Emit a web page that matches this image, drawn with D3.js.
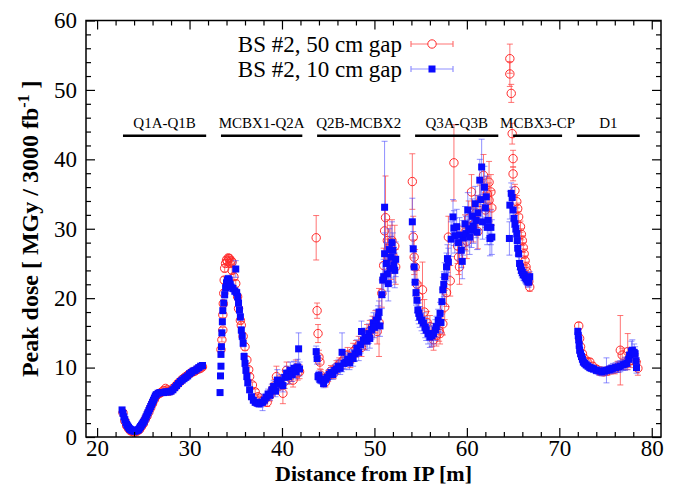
<!DOCTYPE html>
<html>
<head>
<meta charset="utf-8">
<script src="https://cdn.jsdelivr.net/npm/d3@7"></script>
<style>
  body { margin: 0; background: #fff; }
  svg { display: block; font-family: "Liberation Serif", "Times New Roman", serif; }
</style>
</head>
<body>
<div id="chart"></div>
<script>
// BS #2, 50 cm gap (red open circles)
const redX = [
  22.8, 23.0, 23.2, 23.4, 23.6, 23.8, 24.0, 24.2, 24.4, 24.6, 24.8, 25.0, 25.2, 25.4, 25.6, 25.8, 26.0, 26.2, 26.4, 26.6, 26.8, 27.0, 27.2, 27.4, 27.6, 27.8, 28.0, 28.2, 28.4, 28.6, 28.8, 29.0, 29.2, 29.4, 29.6, 29.8, 30.0, 30.2, 30.4, 30.6, 30.8, 31.0, 31.2, 31.4,
  33.4, 33.5, 33.6, 33.6, 33.65, 33.7, 33.75, 33.8, 33.9, 34.0, 34.1, 34.2, 34.3, 34.4, 34.5, 34.6, 34.6, 34.8, 35.0, 35.2, 35.3, 35.5, 35.6, 35.8, 36.0, 36.2, 36.4, 36.5, 36.8, 37.1, 37.4, 37.6, 37.9, 38.2, 38.4, 38.7, 39.0, 39.2, 39.4, 39.7, 40.1, 40.3, 40.5, 40.8, 41.0, 41.2, 41.5, 41.7, 41.9,
  43.7, 43.8, 43.9, 44.0, 44.1, 44.2, 44.4, 44.7, 45.0, 45.3, 45.6, 45.9, 46.2, 46.5, 46.8, 47.1, 47.4, 47.7, 48.0, 48.3, 48.6, 48.9, 49.2, 49.5, 49.8, 50.1, 50.3, 50.5, 50.8, 51.0, 51.1, 51.2, 51.4, 51.5, 51.7, 51.8, 51.9, 52.0, 52.2, 52.3,
  54.1, 54.2, 54.3, 54.4, 54.6, 54.8, 55.2, 55.4, 55.7, 56.0, 56.2, 56.4, 56.7, 57.0, 57.1, 57.4, 57.6, 57.8, 58.0, 58.2, 58.6, 59.0, 59.1, 59.2, 59.5, 59.8, 60.0, 60.2, 60.5, 60.7, 61.0, 61.2, 61.4, 61.8, 62.0, 62.2, 62.4, 62.4, 62.6, 62.7,
  64.65, 64.65, 64.8, 64.9, 65.0, 65.0, 65.2, 65.4, 65.5, 65.6, 65.8, 65.9, 66.0, 66.1, 66.2, 66.3, 66.4, 66.5, 66.6, 66.7, 66.8,
  72.1, 72.2, 72.3, 72.5, 72.7, 73.0, 73.3, 73.6, 74.0, 74.4, 74.8, 75.2, 75.6, 76.0, 76.3, 76.6, 76.8, 77.1, 77.4, 77.7, 78.0, 78.3, 78.5
];
const redY = [
  3.5, 2.3, 1.6, 1.2, 0.9, 0.8, 0.7, 0.75, 0.9, 1.1, 1.5, 1.9, 2.5, 3.0, 3.6, 4.2, 4.8, 5.4, 5.9, 6.2, 6.3, 6.5, 6.7, 7.0, 6.8, 6.6, 6.7, 7.0, 7.2, 7.5, 7.8, 8.0, 8.3, 8.5, 8.7, 8.9, 9.1, 9.3, 9.4, 9.5, 9.7, 9.8, 9.9, 10.1,
  12.6, 14.0, 15.4, 17.6, 19.2, 20.7, 22.6, 24.3, 25.0, 25.5, 25.3, 25.8, 25.7, 25.0, 25.4, 25.2, 24.0, 23.1, 22.1, 20.2, 18.5, 16.8, 16.1, 14.5, 13.0, 11.1, 9.7, 8.7, 7.5, 6.5, 5.8, 5.3, 5.2, 5.5, 5.0, 6.0, 6.9, 7.4, 8.7, 7.8, 6.3, 8.0, 9.6, 8.6, 9.0, 8.2, 9.9, 9.2, 9.4,
  28.7, 18.2, 14.9, 11.5, 10.8, 8.9, 8.4, 7.9, 8.8, 9.5, 9.2, 10.1, 10.5, 10.9, 11.4, 11.8, 11.1, 12.3, 12.7, 13.2, 12.9, 14.0, 14.8, 15.3, 15.9, 16.6, 15.2, 16.5, 20.7, 24.7, 29.7, 31.6, 28.3, 26.0, 27.5, 25.2, 28.3, 26.1, 27.5, 24.5,
  36.8, 28.8, 25.9, 24.5, 22.0, 20.2, 21.2, 18.0, 16.5, 15.9, 14.5, 14.0, 14.6, 15.3, 14.9, 16.3, 18.7, 20.8, 28.8, 22.5, 39.5, 27.5, 25.9, 24.5, 27.8, 29.5, 28.2, 31.5, 35.3, 30.6, 32.3, 29.6, 33.8, 37.7, 32.7, 35.0, 36.7, 34.1, 35.3, 33.0,
  54.5, 52.3, 49.5, 43.7, 40.1, 37.9, 35.5, 33.9, 32.9, 31.7, 30.3, 29.2, 28.3, 27.3, 26.4, 25.4, 24.5, 23.8, 23.1, 22.4, 21.6,
  16.0, 14.2, 13.0, 12.0, 11.3, 10.9, 10.8, 10.2, 9.8, 9.5, 9.4, 9.5, 9.7, 9.8, 10.1, 12.5, 11.8, 10.6, 12.3, 11.0, 11.6, 10.8, 9.9
];
const redErr = [
  0.2, 0.2, 0.2, 0.2, 0.2, 0.2, 0.2, 0.2, 0.2, 0.2, 0.2, 0.2, 0.2, 0.2, 0.2, 0.2, 0.2, 0.2, 0.2, 0.2, 0.2, 0.3, 0.3, 0.3, 0.3, 0.3, 0.3, 0.3, 0.3, 0.3, 0.3, 0.3, 0.3, 0.3, 0.3, 0.3, 0.3, 0.3, 0.3, 0.3, 0.3, 0.3, 0.3, 0.3,
  0.3, 0.3, 0.4, 0.4, 0.4, 0.5, 0.5, 0.5, 0.5, 0.5, 0.5, 0.5, 0.5, 0.5, 0.5, 0.5, 0.5, 0.5, 0.5, 0.5, 0.5, 0.5, 0.5, 0.5, 0.5, 0.5, 0.4, 0.4, 0.4, 0.4, 0.4, 0.4, 0.5, 0.6, 0.6, 0.8, 0.8, 0.9, 1.5, 1.0, 1.5, 1.0, 1.2, 1.0, 1.0, 1.0, 1.2, 1.0, 1.0,
  3.2, 1.1, 1.3, 1.0, 1.0, 0.8, 0.7, 0.7, 0.8, 0.8, 0.8, 0.9, 0.9, 1.0, 1.0, 1.1, 1.1, 1.2, 1.2, 1.3, 1.3, 1.4, 1.4, 1.5, 1.5, 1.6, 1.8, 4.9, 2.0, 2.5, 3.0, 6.0, 3.0, 2.5, 3.0, 2.5, 3.0, 2.5, 3.0, 2.5,
  4.0, 3.0, 2.5, 2.5, 2.0, 2.0, 4.0, 1.8, 1.6, 1.6, 1.5, 1.5, 1.5, 1.5, 1.5, 1.6, 1.8, 2.0, 3.0, 2.2, 5.5, 2.5, 2.5, 2.5, 2.5, 2.5, 2.5, 2.5, 2.5, 2.5, 2.5, 2.5, 2.5, 3.0, 2.5, 2.5, 3.0, 2.5, 2.5, 2.5,
  2.1, 1.8, 1.3, 1.5, 1.2, 1.0, 0.9, 0.9, 0.8, 0.8, 0.8, 0.8, 0.7, 0.7, 0.7, 0.7, 0.7, 0.7, 0.6, 0.6, 0.6,
  0.5, 0.5, 0.5, 0.5, 0.5, 0.5, 0.5, 0.5, 0.5, 0.6, 0.6, 0.6, 0.6, 0.7, 0.8, 5.0, 1.0, 0.9, 2.6, 1.0, 1.2, 1.0, 1.0
];

// BS #2, 10 cm gap (blue filled squares)
const blueX = [
  22.7, 22.8, 22.9, 23.0, 23.1, 23.2, 23.3, 23.4, 23.5, 23.6, 23.7, 23.8, 23.9, 24.0, 24.1, 24.2, 24.3, 24.4, 24.5, 24.6, 24.7, 24.8, 24.9, 25.0, 25.1, 25.2, 25.3, 25.4, 25.5, 25.6, 25.7, 25.8, 25.9, 26.0, 26.1, 26.2, 26.3, 26.4, 26.6, 26.8, 27.0, 27.2, 27.4, 27.6, 27.8, 28.0, 28.2, 28.4, 28.6, 28.8, 29.0, 29.2, 29.4, 29.6, 29.8, 30.0, 30.2, 30.4, 30.6, 30.8, 31.0, 31.2, 31.4,
  33.3, 33.35, 33.4, 33.4, 33.45, 33.5, 33.55, 33.6, 33.7, 33.8, 33.9, 34.0, 34.1, 34.2, 34.3, 34.4, 34.5, 35.0, 34.7, 34.9, 35.1, 35.2, 35.3, 35.4, 35.5, 35.6, 35.7, 35.8, 35.9, 36.0, 36.1, 36.2, 36.3, 36.5, 36.7, 36.9, 37.1, 37.3, 37.5, 37.7, 37.9, 38.1, 38.3, 38.5, 38.7, 38.9, 39.1, 39.3, 39.5, 39.7, 39.9, 40.1, 40.3, 40.5, 40.7, 40.9, 41.1, 41.3, 41.5, 41.7, 41.8, 41.9,
  43.7, 43.8, 43.9, 44.0, 44.1, 44.3, 44.5, 44.7, 44.9, 45.1, 45.3, 45.5, 45.7, 45.9, 46.1, 46.3, 46.5, 46.7, 46.9, 47.1, 47.3, 47.5, 47.7, 47.9, 48.1, 48.3, 48.5, 48.6, 48.8, 49.0, 49.2, 49.4, 49.5, 49.7, 49.9, 50.0, 50.2, 50.4, 50.5, 50.6, 50.8, 50.9, 51.0, 51.1, 51.1, 51.3, 51.4, 51.5, 51.6, 51.7, 51.8, 51.9, 52.0, 52.1, 52.2, 52.3,
  54.1, 54.2, 54.3, 54.4, 54.5, 54.6, 54.7, 54.8, 54.9, 55.1, 55.3, 55.5, 55.6, 55.8, 56.0, 56.2, 56.4, 56.6, 56.7, 56.9, 57.1, 57.2, 57.3, 57.4, 57.5, 57.6, 57.8, 57.9, 58.0, 58.3, 58.5, 58.6, 58.7, 58.9, 59.1, 59.2, 59.4, 59.5, 59.6, 59.8, 59.9, 60.1, 60.2, 60.3, 60.5, 60.6, 60.7, 60.9, 61.0, 61.1, 61.2, 61.4, 61.5, 61.6, 61.7, 61.9, 62.0, 62.1, 62.2, 62.3, 62.5, 62.6, 62.7,
  64.6, 64.65, 64.8, 64.9, 65.0, 65.1, 65.2, 65.3, 65.4, 65.45, 65.5, 65.6, 65.7, 65.8, 65.9, 66.0, 66.1, 66.2, 66.3, 66.4, 66.5, 66.6, 66.7, 66.8,
  72.0, 72.05, 72.1, 72.15, 72.2, 72.3, 72.4, 72.5, 72.6, 72.75, 72.9, 73.1, 73.3, 73.5, 73.7, 74.0, 74.3, 74.6, 74.9, 75.1, 75.4, 75.6, 75.8, 76.1, 76.4, 76.6, 76.9, 77.1, 77.3, 77.5, 77.6, 77.8, 77.9, 78.1, 78.2, 78.3, 78.35
];
const blueY = [
  3.9, 3.4, 2.9, 2.5, 2.1, 1.8, 1.6, 1.4, 1.2, 1.1, 1.0, 0.95, 0.9, 0.85, 0.85, 0.9, 0.95, 1.0, 1.1, 1.3, 1.5, 1.7, 1.9, 2.1, 2.3, 2.6, 2.9, 3.2, 3.5, 3.8, 4.1, 4.4, 4.7, 5.0, 5.3, 5.6, 5.9, 6.1, 6.3, 6.4, 6.4, 6.4, 6.5, 6.5, 6.5, 6.6, 6.8, 7.1, 7.4, 7.7, 8.0, 8.2, 8.4, 8.6, 8.8, 9.1, 9.3, 9.5, 9.6, 9.8, 10.0, 10.2, 10.3,
  6.4, 8.8, 10.2, 11.9, 13.0, 15.0, 16.6, 18.2, 19.3, 20.5, 21.5, 22.2, 22.6, 22.8, 22.6, 22.0, 21.6, 24.2, 21.4, 21.0, 20.8, 20.2, 19.3, 18.3, 17.3, 15.4, 14.5, 13.5, 11.6, 10.6, 9.6, 8.7, 7.8, 6.8, 5.8, 5.3, 5.0, 4.9, 4.8, 4.9, 5.0, 5.3, 5.7, 6.2, 6.0, 6.8, 7.3, 6.6, 8.2, 7.6, 8.1, 7.4, 8.6, 9.2, 8.7, 9.6, 9.0, 9.9, 9.4, 10.1, 12.7, 9.8,
  12.3, 11.3, 8.7, 8.9, 8.3, 8.2, 7.7, 8.3, 8.6, 9.0, 9.3, 9.0, 9.6, 9.8, 10.2, 9.9, 12.2, 10.6, 10.8, 11.2, 10.7, 11.6, 11.3, 12.0, 12.8, 12.2, 13.3, 15.2, 13.9, 14.4, 13.8, 14.9, 14.2, 15.5, 16.4, 15.8, 16.8, 17.3, 18.0, 16.0, 20.5, 22.6, 23.1, 26.4, 33.1, 25.0, 23.5, 22.1, 27.0, 24.3, 25.9, 28.0, 26.9, 24.8, 24.0, 25.6,
  31.0, 27.1, 24.5, 22.3, 20.8, 19.7, 18.3, 17.8, 17.3, 16.8, 16.4, 15.8, 15.4, 14.9, 14.4, 14.6, 14.9, 15.4, 15.9, 16.8, 17.8, 16.5, 19.5, 21.2, 22.0, 23.1, 24.5, 25.7, 25.2, 28.5, 31.7, 30.1, 29.0, 30.3, 28.0, 29.1, 26.9, 25.3, 28.7, 30.7, 29.3, 32.7, 30.0, 28.8, 29.8, 31.8, 30.4, 33.6, 31.2, 29.5, 32.3, 37.0, 34.2, 38.9, 31.0, 36.0, 33.0, 34.6, 30.2, 31.2, 28.6, 30.2, 28.8,
  28.6, 33.4, 35.1, 34.5, 32.7, 31.5, 30.7, 30.0, 29.3, 28.3, 27.2, 26.4, 25.0, 24.5, 24.0, 23.7, 23.4, 23.3, 23.0, 22.8, 22.6, 22.4, 22.3, 23.1,
  15.2, 14.6, 14.0, 13.2, 12.5, 12.0, 11.6, 11.2, 10.8, 10.6, 10.4, 10.2, 10.0, 9.9, 9.8, 9.6, 9.5, 9.4, 9.5, 9.6, 9.7, 9.8, 9.9, 10.0, 10.1, 10.2, 10.4, 10.5, 10.6, 11.2, 11.8, 12.3, 12.5, 12.2, 12.0, 11.0, 10.0
];
const blueErr = [
  0.2, 0.2, 0.2, 0.2, 0.2, 0.2, 0.2, 0.2, 0.2, 0.2, 0.2, 0.2, 0.2, 0.2, 0.2, 0.2, 0.2, 0.2, 0.2, 0.2, 0.2, 0.2, 0.2, 0.2, 0.2, 0.2, 0.2, 0.2, 0.2, 0.2, 0.2, 0.2, 0.2, 0.2, 0.2, 0.2, 0.2, 0.2, 0.3, 0.3, 0.3, 0.3, 0.3, 0.3, 0.3, 0.3, 0.3, 0.3, 0.3, 0.3, 0.3, 0.3, 0.3, 0.3, 0.3, 0.3, 0.3, 0.3, 0.3, 0.3, 0.3, 0.3, 0.3,
  0.3, 0.3, 0.3, 0.3, 0.3, 0.4, 0.4, 0.4, 0.4, 0.5, 0.5, 0.5, 0.5, 0.5, 0.5, 0.6, 0.6, 1.2, 0.5, 0.5, 0.5, 0.5, 0.5, 0.5, 0.5, 0.5, 0.5, 0.5, 0.5, 0.5, 0.4, 0.4, 0.4, 0.4, 0.4, 0.4, 0.4, 0.5, 0.5, 0.6, 1.2, 0.6, 0.6, 0.7, 0.7, 0.8, 0.8, 0.8, 1.5, 0.8, 0.9, 0.9, 1.0, 1.0, 1.0, 1.2, 1.0, 1.0, 1.0, 1.1, 2.3, 1.0,
  0.8, 0.8, 0.6, 0.6, 0.6, 0.6, 0.6, 0.6, 0.6, 0.7, 0.7, 0.7, 0.8, 0.8, 0.9, 0.9, 2.8, 0.9, 1.0, 1.0, 1.0, 1.0, 1.1, 1.1, 1.2, 1.2, 1.2, 1.5, 1.2, 1.3, 1.3, 1.4, 1.4, 1.4, 1.5, 1.5, 1.5, 1.6, 1.6, 1.5, 2.0, 2.5, 2.5, 3.0, 9.5, 3.0, 2.5, 2.5, 3.0, 2.5, 3.0, 3.0, 2.5, 2.5, 2.5, 2.5,
  3.4, 2.5, 2.2, 2.0, 1.8, 1.8, 1.5, 1.5, 1.5, 1.5, 1.5, 1.5, 1.5, 1.5, 1.5, 1.5, 1.5, 1.5, 1.5, 1.6, 1.6, 1.5, 1.8, 1.8, 1.8, 2.0, 2.0, 2.0, 2.0, 2.5, 2.5, 2.5, 2.5, 2.5, 2.5, 2.5, 2.5, 2.5, 2.5, 2.5, 2.5, 2.5, 2.5, 2.5, 2.5, 2.5, 2.5, 2.5, 2.5, 2.5, 2.5, 3.0, 2.5, 4.0, 2.5, 3.0, 2.5, 3.0, 2.5, 2.5, 2.5, 2.5, 2.5,
  2.4, 2.0, 1.5, 1.5, 1.5, 1.3, 1.2, 1.2, 1.2, 1.0, 1.0, 1.0, 0.9, 0.9, 0.8, 0.8, 0.8, 0.8, 0.8, 0.8, 0.8, 0.8, 0.7, 0.7,
  0.5, 0.5, 0.5, 0.5, 0.5, 0.5, 0.5, 0.5, 0.5, 0.5, 0.5, 0.5, 0.5, 0.5, 0.5, 0.5, 0.6, 0.6, 0.6, 1.8, 0.6, 0.6, 0.7, 0.7, 0.8, 0.8, 0.8, 0.9, 0.9, 1.0, 1.0, 1.5, 1.5, 1.2, 1.0, 1.0, 0.8
];

const xTicks = [20, 30, 40, 50, 60, 70, 80];
const yTicks = [0, 10, 20, 30, 40, 50, 60];
const regionNames = ["Q1A-Q1B", "MCBX1-Q2A", "Q2B-MCBX2", "Q3A-Q3B", "MCBX3-CP", "D1"];
const regionStart = [22.8, 33.4, 43.8, 54.4, 65.0, 71.9];
const regionEnd = [31.8, 42.2, 52.8, 63.4, 70.3, 78.7];
const regionLevel = 43.4;
const legendNames = ["BS #2, 50 cm gap", "BS #2, 10 cm gap"];

const width = 674, height = 487;
const plotL = 86, plotR = 661, plotT = 20.5, plotB = 437;

const x = d3.scaleLinear().domain([18.8, 81]).range([plotL, plotR]);
const y = d3.scaleLinear().domain([0, 60]).range([plotB, plotT]);

const svg = d3.select('#chart').append('svg')
  .attr('width', width).attr('height', height);

const red = '#ff2a2a', redBar = 'rgba(255,70,70,0.75)';
const blue = '#0a0aff', blueBar = 'rgba(70,70,255,0.6)';

const redPts = redX.map((v, i) => ({ x: v, y: redY[i], e: redErr[i] }));
const bluePts = blueX.map((v, i) => ({ x: v, y: blueY[i], e: blueErr[i] }));

// error bars with little caps
function errorBars(pts, color) {
  const g = svg.append('g').attr('stroke', color).attr('stroke-width', 1).attr('fill', 'none');
  g.selectAll('path').data(pts).join('path')
    .attr('d', d => {
      const cx = x(d.x), y0 = y(d.y - d.e), y1 = y(d.y + d.e);
      return `M${cx},${y0}V${y1}M${cx - 3},${y0}H${cx + 3}M${cx - 3},${y1}H${cx + 3}`;
    });
}

errorBars(redPts, redBar);
svg.append('g').selectAll('circle').data(redPts).join('circle')
  .attr('cx', d => x(d.x)).attr('cy', d => y(d.y)).attr('r', 4.2)
  .attr('fill', 'none').attr('stroke', red).attr('stroke-width', 1);

errorBars(bluePts, blueBar);
svg.append('g').selectAll('rect').data(bluePts).join('rect')
  .attr('x', d => x(d.x) - 3.5).attr('y', d => y(d.y) - 3.5)
  .attr('width', 7).attr('height', 7).attr('fill', blue);

// region bars
const reg = svg.append('g');
regionNames.forEach((name, i) => {
  reg.append('line')
    .attr('x1', x(regionStart[i])).attr('x2', x(regionEnd[i]))
    .attr('y1', y(regionLevel)).attr('y2', y(regionLevel))
    .attr('stroke', '#000').attr('stroke-width', 2.5);
  reg.append('text')
    .attr('x', (x(regionStart[i]) + x(regionEnd[i])) / 2)
    .attr('y', y(regionLevel) - 8)
    .attr('text-anchor', 'middle').attr('font-size', 15)
    .text(name);
});

// frame and ticks
const minorX = d3.range(20, 81, 2).filter(v => v % 10 !== 0);
const minorY = d3.range(0, 61, 2).filter(v => v % 10 !== 0);

function styleAxis(g) {
  g.select('.domain').remove();
  g.selectAll('.tick line').attr('stroke', '#000').attr('stroke-width', 1.2);
  g.selectAll('.tick text').attr('font-size', 23).attr('fill', '#000')
    .attr('font-family', '"Liberation Serif", serif');
}

svg.append('g').attr('transform', `translate(0,${plotB})`)
  .call(d3.axisBottom(x).tickValues(xTicks).tickSize(-9).tickPadding(3)).call(styleAxis);
svg.append('g').attr('transform', `translate(0,${plotB})`)
  .call(d3.axisBottom(x).tickValues(minorX).tickSize(-5).tickFormat('')).call(styleAxis);
svg.append('g').attr('transform', `translate(0,${plotT})`)
  .call(d3.axisTop(x).tickValues(xTicks).tickSize(-9).tickFormat('')).call(styleAxis);
svg.append('g').attr('transform', `translate(0,${plotT})`)
  .call(d3.axisTop(x).tickValues(minorX).tickSize(-5).tickFormat('')).call(styleAxis);

svg.append('g').attr('transform', `translate(${plotL},0)`)
  .call(d3.axisLeft(y).tickValues(yTicks).tickSize(-9).tickPadding(9)).call(styleAxis);
svg.append('g').attr('transform', `translate(${plotL},0)`)
  .call(d3.axisLeft(y).tickValues(minorY).tickSize(-5).tickFormat('')).call(styleAxis);
svg.append('g').attr('transform', `translate(${plotR},0)`)
  .call(d3.axisRight(y).tickValues(yTicks).tickSize(-9).tickFormat('')).call(styleAxis);
svg.append('g').attr('transform', `translate(${plotR},0)`)
  .call(d3.axisRight(y).tickValues(minorY).tickSize(-5).tickFormat('')).call(styleAxis);

svg.append('rect')
  .attr('x', plotL).attr('y', plotT)
  .attr('width', plotR - plotL).attr('height', plotB - plotT)
  .attr('fill', 'none').attr('stroke', '#000').attr('stroke-width', 1.5);

// axis titles
svg.append('text')
  .attr('x', (plotL + plotR) / 2).attr('y', 481)
  .attr('text-anchor', 'middle').attr('font-size', 22).attr('font-weight', 'bold')
  .text('Distance from IP [m]');

const yt = svg.append('text')
  .attr('transform', `translate(38,${(plotT + plotB) / 2}) rotate(-90)`)
  .attr('text-anchor', 'middle').attr('font-size', 24).attr('font-weight', 'bold');
yt.append('tspan').text('Peak dose [ MGy / 3000 fb');
yt.append('tspan').attr('font-size', 16).attr('dy', -9).text('-1');
yt.append('tspan').attr('dy', 9).text(' ]');

// legend
const leg = svg.append('g');
legendNames.forEach((name, i) => {
  const ly = 44 + i * 25;
  leg.append('text')
    .attr('x', 402).attr('y', ly + 8)
    .attr('text-anchor', 'end').attr('font-size', 23)
    .text(name);
  const col = i === 0 ? redBar : blueBar;
  leg.append('path')
    .attr('d', `M411,${ly}H453M411,${ly - 3}V${ly + 3}M453,${ly - 3}V${ly + 3}`)
    .attr('stroke', col).attr('stroke-width', 1.2).attr('fill', 'none');
  if (i === 0) {
    leg.append('circle').attr('cx', 432).attr('cy', ly).attr('r', 4.2)
      .attr('fill', '#fff').attr('stroke', red);
  } else {
    leg.append('rect').attr('x', 428.5).attr('y', ly - 3.5)
      .attr('width', 7).attr('height', 7).attr('fill', blue);
  }
});
</script>
</body>
</html>
